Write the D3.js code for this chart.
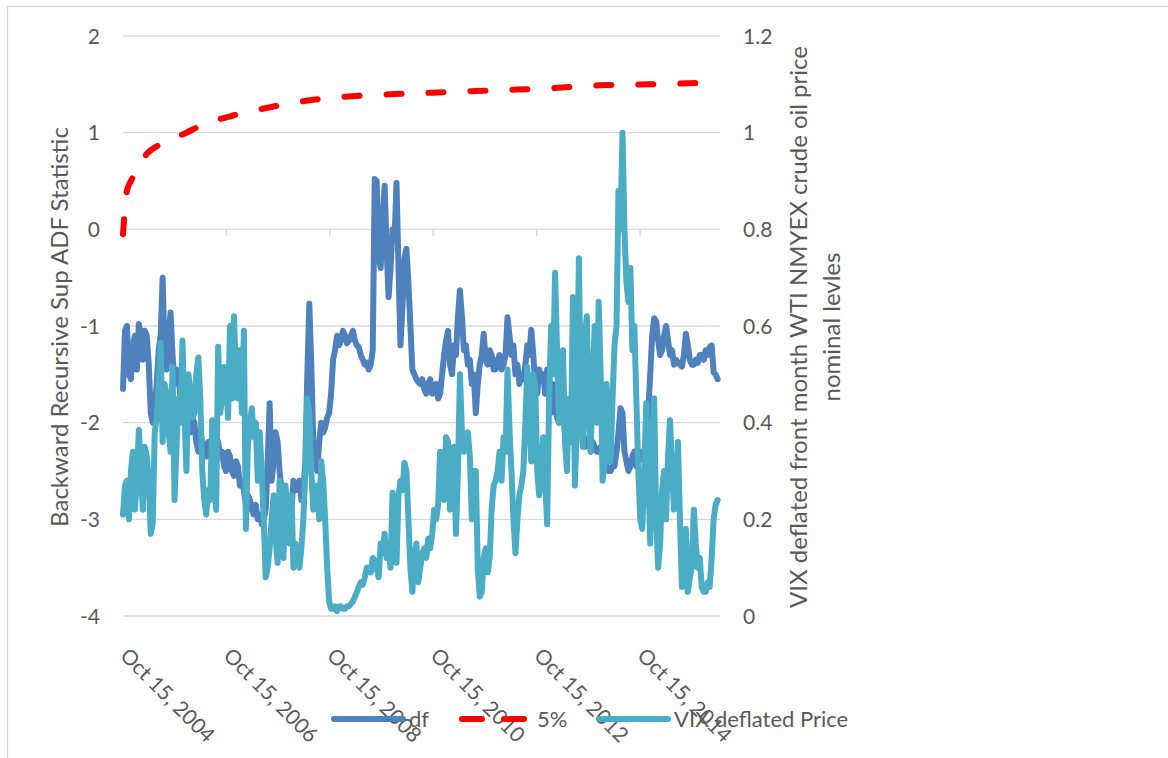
<!DOCTYPE html>
<html>
<head>
<meta charset="utf-8">
<script src="https://cdn.jsdelivr.net/npm/d3@7"></script>
<style>
  body { margin: 0; background: #fff; }
  text { font-family: Lato, "Open Sans", sans-serif; fill: #595959; }
</style>
</head>
<body>
<svg id="chart" width="1168" height="758"></svg>
<script>
// sup ADF statistic (left axis), one value every 2 weeks from Oct 15, 2004
var dfValues = [-1.65, -1.05, -1.0, -1.5, -1.55, -1.2, -1.1, -1.45, -0.98, -1.1,
    -1.35, -1.05, -1.1, -1.4, -1.9, -2.0, -1.85, -1.6, -1.25, -1.1,
    -0.5, -1.3, -1.45, -1.1, -0.86, -1.3, -1.6, -1.45, -1.5, -1.75,
    -1.7, -1.6, -1.9, -2.0, -2.1, -1.95, -2.0, -2.2, -2.3, -2.1,
    -2.2, -2.3, -2.35, -2.2, -2.25, -2.4, -2.3, -2.15, -2.2, -2.35,
    -2.3, -2.45, -2.5, -2.3, -2.35, -2.5, -2.55, -2.4, -2.45, -2.65,
    -2.6, -2.7, -2.85, -2.75, -2.8, -2.9, -2.95, -2.85, -3.0, -2.95,
    -3.05, -3.0, -2.9, -2.4, -1.8, -2.6, -2.4, -2.1, -2.2, -2.5,
    -2.7, -2.85, -2.9, -2.75, -3.1, -2.9, -2.6, -2.7, -2.65, -2.6,
    -2.8, -2.7, -2.4, -1.5, -0.77, -1.4, -2.2, -2.4, -2.5, -2.2,
    -2.0, -2.1, -2.05, -1.95, -1.9, -1.7, -1.35, -1.25, -1.1, -1.2,
    -1.15, -1.05, -1.1, -1.18, -1.15, -1.1, -1.05, -1.15, -1.2, -1.22,
    -1.3, -1.35, -1.4, -1.38, -1.45, -1.4, -1.25, 0.52, 0.5, -0.3,
    -0.4, 0.1, 0.45, -0.2, -0.7, -0.4, 0.0, -0.1, 0.48, -0.4,
    -1.2, -0.8, -0.3, -0.2, -0.55, -1.0, -1.45, -1.5, -1.55, -1.58,
    -1.6, -1.55, -1.65, -1.7, -1.6, -1.55, -1.7, -1.62, -1.6, -1.75,
    -1.7, -1.5, -1.3, -1.15, -1.05, -1.4, -1.5, -1.2, -1.3, -0.9,
    -0.63, -0.9, -1.25, -1.2, -1.4, -1.35, -1.6, -1.5, -1.9, -1.6,
    -1.4, -1.3, -1.08, -1.35, -1.4, -1.25, -1.3, -1.45, -1.45, -1.35,
    -1.3, -1.45, -1.4, -1.3, -0.91, -1.1, -1.3, -1.2, -1.5, -1.4,
    -1.6, -1.52, -1.55, -1.4, -1.2, -1.3, -1.04, -1.3, -1.6, -1.7,
    -1.45, -1.55, -1.5, -1.7, -1.45, -1.75, -1.9, -1.6, -1.7, -1.95,
    -2.0, -1.85, -1.9, -2.1, -2.05, -1.9, -1.95, -2.15, -2.1, -1.8,
    -1.7, -2.0, -2.15, -2.25, -2.2, -2.15, -2.3, -2.2, -2.25, -2.3,
    -2.3, -2.25, -2.35, -2.4, -2.45, -2.5, -2.5, -2.45, -2.45, -2.3,
    -2.1, -1.85, -1.9, -2.3, -2.4, -2.5, -2.45, -2.35, -2.3, -2.45,
    -2.4, -2.35, -2.3, -2.4, -2.2, -1.9, -1.5, -1.1, -0.92, -0.95,
    -1.15, -1.3, -1.25, -1.1, -1.0, -1.15, -1.3, -1.25, -1.4, -1.35,
    -1.38, -1.4, -1.42, -1.3, -1.08, -1.2, -1.35, -1.4, -1.4, -1.35,
    -1.38, -1.3, -1.3, -1.35, -1.25, -1.3, -1.22, -1.2, -1.48, -1.5,
    -1.55];

// VIX deflated price (right axis), same dates
var vixValues = [0.21, 0.27, 0.28, 0.2, 0.3, 0.34, 0.22, 0.28, 0.385, 0.3,
    0.22, 0.35, 0.33, 0.28, 0.17, 0.19, 0.38, 0.41, 0.48, 0.565,
    0.36, 0.48, 0.46, 0.38, 0.34, 0.515, 0.24, 0.35, 0.45, 0.4,
    0.57, 0.42, 0.3, 0.5, 0.47, 0.41, 0.42, 0.5, 0.535, 0.45,
    0.3, 0.24, 0.21, 0.26, 0.24, 0.405, 0.3, 0.22, 0.557, 0.42,
    0.45, 0.515, 0.5, 0.41, 0.6, 0.45, 0.62, 0.5, 0.45, 0.55,
    0.42, 0.59, 0.18, 0.35, 0.4, 0.43, 0.37, 0.4, 0.28, 0.38,
    0.3, 0.2, 0.08, 0.1, 0.14, 0.2, 0.25, 0.16, 0.11, 0.28,
    0.22, 0.12, 0.27, 0.2, 0.15, 0.25, 0.1, 0.15, 0.13, 0.1,
    0.14, 0.2, 0.3, 0.45, 0.42, 0.3, 0.22, 0.26, 0.27, 0.2,
    0.32, 0.28, 0.2, 0.1, 0.03, 0.015, 0.015, 0.02, 0.01, 0.02,
    0.02, 0.015, 0.015, 0.02, 0.02, 0.025, 0.03, 0.04, 0.05, 0.06,
    0.07, 0.065, 0.08, 0.1, 0.1, 0.09, 0.12, 0.115, 0.1, 0.08,
    0.15, 0.13, 0.17, 0.12, 0.14, 0.1, 0.255, 0.15, 0.11, 0.25,
    0.28, 0.26, 0.317, 0.3, 0.2, 0.1, 0.05, 0.12, 0.15, 0.07,
    0.1, 0.13, 0.14, 0.12, 0.16, 0.14, 0.17, 0.22, 0.2, 0.23,
    0.34, 0.28, 0.24, 0.37, 0.36, 0.22, 0.23, 0.35, 0.17, 0.3,
    0.5, 0.38, 0.34, 0.36, 0.38, 0.33, 0.2, 0.3, 0.3, 0.1,
    0.04, 0.05, 0.12, 0.14, 0.09, 0.12, 0.22, 0.27, 0.28, 0.3,
    0.34, 0.28, 0.37, 0.34, 0.51, 0.385, 0.3, 0.2, 0.13, 0.2,
    0.25, 0.27, 0.3, 0.4, 0.515, 0.41, 0.32, 0.5, 0.48, 0.3,
    0.25, 0.3, 0.37, 0.28, 0.19, 0.45, 0.6, 0.5, 0.71, 0.55,
    0.4, 0.48, 0.55, 0.36, 0.3, 0.45, 0.36, 0.66, 0.27, 0.4,
    0.74, 0.45, 0.35, 0.58, 0.62, 0.4, 0.34, 0.5, 0.6, 0.4,
    0.65, 0.5, 0.28, 0.32, 0.48, 0.35, 0.32, 0.45, 0.56, 0.6,
    0.88, 0.8, 1.0, 0.8, 0.69, 0.65, 0.72, 0.55, 0.6, 0.45,
    0.3, 0.2, 0.18, 0.3, 0.44, 0.3, 0.15, 0.35, 0.45, 0.2,
    0.1, 0.15, 0.26, 0.3, 0.2, 0.33, 0.405, 0.3, 0.22, 0.28,
    0.36, 0.2, 0.06, 0.12, 0.18, 0.05, 0.08, 0.1, 0.22, 0.15,
    0.1, 0.12, 0.06, 0.05, 0.05, 0.07, 0.06, 0.12, 0.2, 0.23,
    0.24];

// 5% critical value, read at some of the dates above (index into dates)
var critIndex = [0, 2, 4, 6, 12, 20, 32, 40, 56, 76, 96, 118, 138, 164, 190, 216, 240, 266, 300];
var critValues = [-0.05, 0.4, 0.5, 0.58, 0.78, 0.89, 1.0, 1.08, 1.18, 1.27, 1.34, 1.38, 1.4, 1.42, 1.44, 1.46, 1.49, 1.5, 1.52];

var tickDates = ["2004-10-15", "2006-10-15", "2008-10-15", "2010-10-15", "2012-10-15", "2014-10-15"];
var leftTicks = [-4, -3, -2, -1, 0, 1, 2];
var rightTicks = [0, 0.2, 0.4, 0.6, 0.8, 1, 1.2];

var start = new Date(2004, 9, 15);
var dates = dfValues.map(function (d, i) { return d3.timeDay.offset(start, 14 * i); });
var parse = d3.timeParse("%Y-%m-%d");
var fmt = d3.timeFormat("%b %d, %Y");

var svg = d3.select("#chart");

// chart border
svg.append("rect")
    .attr("x", 7.5).attr("y", 6.5)
    .attr("width", 1300).attr("height", 900)
    .attr("fill", "none")
    .attr("stroke", "#d9d9d9")
    .attr("stroke-width", 1.3);

var xScale = d3.scaleTime()
    .domain([dates[0], dates[dates.length - 1]])
    .range([123, 717.6]);
var yLeft = d3.scaleLinear().domain([-4, 2]).range([616, 36]);
var yRight = d3.scaleLinear().domain([0, 1.2]).range([616, 36]);

// gridlines
svg.append("g")
    .selectAll("line")
    .data(leftTicks)
    .enter().append("line")
    .attr("x1", 123).attr("x2", 720)
    .attr("y1", function (d) { return yLeft(d); })
    .attr("y2", function (d) { return yLeft(d); })
    .attr("stroke", "#d9d9d9")
    .attr("stroke-width", 1.3);

// tick marks sit on the zero line
svg.append("g")
    .selectAll("line")
    .data(tickDates)
    .enter().append("line")
    .attr("x1", function (d) { return xScale(parse(d)); })
    .attr("x2", function (d) { return xScale(parse(d)); })
    .attr("y1", yLeft(0))
    .attr("y2", yLeft(0) + 7)
    .attr("stroke", "#d9d9d9")
    .attr("stroke-width", 1.3);

// left axis labels
svg.append("g")
    .selectAll("text")
    .data(leftTicks)
    .enter().append("text")
    .attr("x", 100)
    .attr("y", function (d) { return yLeft(d); })
    .attr("dy", "0.36em")
    .attr("text-anchor", "end")
    .style("font-size", "21px")
    .text(function (d) { return d; });

// right axis labels
svg.append("g")
    .selectAll("text")
    .data(rightTicks)
    .enter().append("text")
    .attr("x", 743)
    .attr("y", function (d) { return yRight(d); })
    .attr("dy", "0.36em")
    .style("font-size", "21px")
    .text(function (d) { return d; });

// rotated date labels
svg.append("g")
    .selectAll("text")
    .data(tickDates)
    .enter().append("text")
    .attr("transform", function (d) {
        return "translate(" + (xScale(parse(d)) - 4) + ",657) rotate(45)";
    })
    .style("font-size", "21px")
    .text(function (d) { return fmt(parse(d)); });

// axis titles
svg.append("text")
    .attr("transform", "translate(68,327) rotate(-90)")
    .attr("text-anchor", "middle")
    .style("font-size", "24px")
    .text("Backward Recursive Sup ADF Statistic");

svg.append("text")
    .attr("transform", "translate(807,327) rotate(-90)")
    .attr("text-anchor", "middle")
    .style("font-size", "24px")
    .text("VIX deflated front month WTI NMYEX crude oil price");

svg.append("text")
    .attr("transform", "translate(840,327) rotate(-90)")
    .attr("text-anchor", "middle")
    .style("font-size", "24px")
    .text("nominal levles");

// series
var dfLine = d3.line()
    .x(function (d, i) { return xScale(dates[i]); })
    .y(function (d) { return yLeft(d); });

var vixLine = d3.line()
    .x(function (d, i) { return xScale(dates[i]); })
    .y(function (d) { return yRight(d); });

var critLine = d3.line()
    .curve(d3.curveMonotoneX)
    .x(function (d, i) { return xScale(dates[critIndex[i]]); })
    .y(function (d) { return yLeft(d); });

svg.append("path")
    .datum(dfValues)
    .attr("d", dfLine)
    .attr("fill", "none")
    .attr("stroke", "#4f81bd")
    .attr("stroke-width", 6)
    .attr("stroke-linejoin", "round")
    .attr("stroke-linecap", "round");

svg.append("path")
    .datum(critValues)
    .attr("d", critLine)
    .attr("fill", "none")
    .attr("stroke", "#ff0000")
    .attr("stroke-width", 6)
    .attr("stroke-dasharray", "15,27")
    .attr("stroke-linecap", "round");

svg.append("path")
    .datum(vixValues)
    .attr("d", vixLine)
    .attr("fill", "none")
    .attr("stroke", "#4bacc6")
    .attr("stroke-width", 6)
    .attr("stroke-linejoin", "round")
    .attr("stroke-linecap", "round");

// legend
var legend = [
    { name: "df", color: "#4f81bd", x: 334, dash: null },
    { name: "5%", color: "#ff0000", x: 462, dash: "20,22" },
    { name: "VIX deflated Price", color: "#4bacc6", x: 599, dash: null }
];

var lg = svg.append("g").selectAll("g")
    .data(legend)
    .enter().append("g")
    .attr("transform", function (d) { return "translate(" + d.x + ",719)"; });

lg.append("line")
    .attr("x1", 0).attr("x2", 69)
    .attr("y1", 0).attr("y2", 0)
    .attr("stroke", function (d) { return d.color; })
    .attr("stroke-width", 6)
    .attr("stroke-linecap", "round")
    .attr("stroke-dasharray", function (d) { return d.dash; });

lg.append("text")
    .attr("x", 75)
    .attr("y", 0)
    .attr("dy", "0.36em")
    .style("font-size", "22px")
    .text(function (d) { return d.name; });
</script>
</body>
</html>
